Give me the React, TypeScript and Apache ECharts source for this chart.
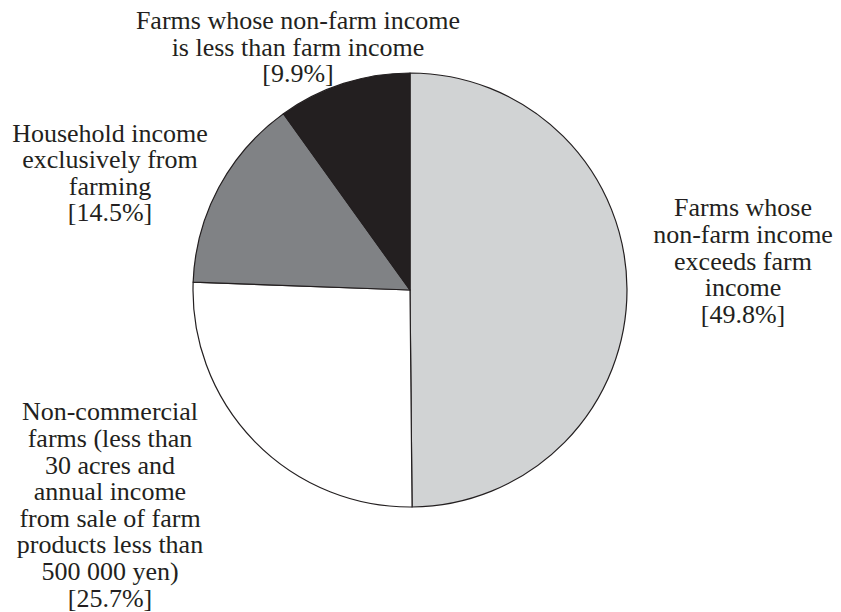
import React, { useEffect, useRef } from "react";
import * as echarts from "echarts";

const CATEGORIES = [
  "Farms whose non-farm income exceeds farm income",
  "Non-commercial farms (less than 30 acres and annual income from sale of farm products less than 500 000 yen)",
  "Household income exclusively from farming",
  "Farms whose non-farm income is less than farm income",
];
const VALUES = [49.8, 25.7, 14.5, 9.9];
const LABEL_LINES = [
  ["Farms whose", "non-farm income", "exceeds farm", "income"],
  ["Non-commercial", "farms (less than", "30 acres and", "annual income", "from sale of farm", "products less than", "500 000 yen)"],
  ["Household income", "exclusively from", "farming"],
  ["Farms whose non-farm income", "is less than farm income"],
];
const COLORS = ["#d1d3d4", "#ffffff", "#808285", "#231f20"];
const LABEL_POS: [number, number][] = [
  [743, 261],
  [110, 505],
  [110, 173],
  [298, 47],
];

export default function App() {
  const ref = useRef<HTMLDivElement>(null);
  useEffect(() => {
    if (!ref.current) return;
    const chart = echarts.init(ref.current, null, { renderer: "svg" });
    const data = CATEGORIES.map((name, i) => ({
      name,
      value: VALUES[i],
      itemStyle: { color: COLORS[i] },
    }));
    chart.setOption({
      animation: false,
      backgroundColor: "#ffffff",
      series: [
        {
          type: "pie",
          center: [410, 290],
          radius: 217,
          startAngle: 90,
          clockwise: true,
          silent: true,
          avoidLabelOverlap: false,
          data,
          itemStyle: { borderColor: "#231f20", borderWidth: 1.2 },
          label: {
            show: true,
            position: "outside",
            formatter: (p: any) =>
              LABEL_LINES[p.dataIndex].join("\n") + "\n[" + VALUES[p.dataIndex].toFixed(1) + "%]",
            fontFamily: "Liberation Serif",
            fontSize: 26,
            lineHeight: 26.6,
            color: "#231f20",
            align: "center",
          },
          labelLine: { show: false },
          labelLayout: (params: any) => {
            const p = LABEL_POS[params.dataIndex];
            return { x: p[0], y: p[1], align: "center", verticalAlign: "middle" };
          },
          emphasis: { disabled: true },
        },
      ],
    });
    return () => chart.dispose();
  }, []);
  return (
    <div
      ref={ref}
      style={{ position: "absolute", left: 0, top: 0, width: 841, height: 612 }}
    />
  );
}
